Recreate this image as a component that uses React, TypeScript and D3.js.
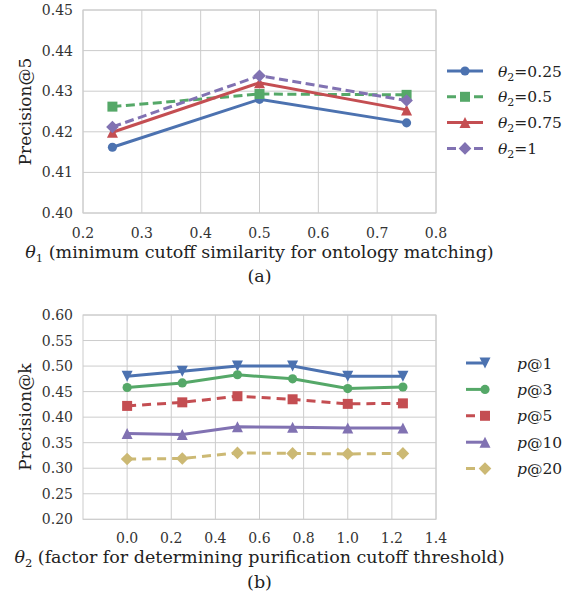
import React from "react";
import * as d3 from "d3";

// (a) precision@5 vs theta1
const theta1 = [0.25, 0.5, 0.75];
const a025 = [0.4162, 0.428, 0.4222];
const a05 = [0.4262, 0.4293, 0.4291];
const a075 = [0.4199, 0.4321, 0.4254];
const a1 = [0.4212, 0.4338, 0.4277];
const aXTicks = [0.2, 0.3, 0.4, 0.5, 0.6, 0.7, 0.8];
const aYTicks = [0.4, 0.41, 0.42, 0.43, 0.44, 0.45];

// (b) precision@k vs theta2
const theta2 = [0, 0.25, 0.5, 0.75, 1.0, 1.25];
const p1 = [0.48, 0.49, 0.5, 0.5, 0.48, 0.48];
const p3 = [0.458, 0.467, 0.483, 0.475, 0.456, 0.459];
const p5 = [0.422, 0.429, 0.441, 0.435, 0.426, 0.427];
const p10 = [0.368, 0.366, 0.381, 0.38, 0.379, 0.379];
const p20 = [0.318, 0.319, 0.33, 0.329, 0.328, 0.329];
const bXTicks = [0.0, 0.2, 0.4, 0.6, 0.8, 1.0, 1.2, 1.4];
const bYTicks = [0.2, 0.25, 0.3, 0.35, 0.4, 0.45, 0.5, 0.55, 0.6];

const C = {
  blue: "#4C72B0",
  green: "#55A868",
  red: "#C44E52",
  purple: "#8172B2",
  yellow: "#CCB974",
};
const GRID = "#cccccc";
const FONT = "'DejaVu Serif', serif";

type Marker = "circle" | "square" | "tri" | "trid" | "diamond";

function markerPath(m: Marker) {
  if (m === "circle") {
    return d3.symbol(d3.symbolCircle, 66)()!;
  }
  const p = d3.path();
  if (m === "square") {
    const s = 5;
    p.rect(-s, -s, 2 * s, 2 * s);
  } else if (m === "diamond") {
    const s = 6.3;
    p.moveTo(0, -s); p.lineTo(s, 0); p.lineTo(0, s); p.lineTo(-s, 0); p.closePath();
  } else if (m === "tri") {
    const s = 5.5;
    p.moveTo(0, -s); p.lineTo(s, s); p.lineTo(-s, s); p.closePath();
  } else {
    const s = 5.5;
    p.moveTo(0, s); p.lineTo(s, -s); p.lineTo(-s, -s); p.closePath();
  }
  return p.toString();
}

function Mark({ m, x, y, color }: { m: Marker; x: number; y: number; color: string }) {
  return <path d={markerPath(m)} transform={`translate(${x},${y})`} fill={color} />;
}

type Series = { name: React.ReactNode; values: number[]; color: string; dash?: string; marker: Marker };

function Panel({
  top, xs, series, xDomain, yDomain, xTicks, yTicks, xFmt, yFmt, yLabel, xLabel, tag,
  legendY, legendStep, legendLine, textX,
  tickY, titleY, tagY,
}: any) {
  const left = 83, right = 436, height = top.h;
  const x = d3.scaleLinear().domain(xDomain).range([left, right]);
  const y = d3.scaleLinear().domain(yDomain).range([top.y + height, top.y]);
  const line = d3.line<number>().x((_, i) => x(xs[i])).y((d) => y(d));
  return (
    <g>
      {xTicks.map((t: number) => (
        <line key={"gx" + t} x1={x(t)} x2={x(t)} y1={y(yDomain[0])} y2={y(yDomain[1])} stroke={GRID} strokeWidth={1} />
      ))}
      {yTicks.map((t: number) => (
        <line key={"gy" + t} x1={left} x2={right} y1={y(t)} y2={y(t)} stroke={GRID} strokeWidth={1} />
      ))}
      <rect x={left} y={top.y} width={right - left} height={height} fill="none" stroke={GRID} strokeWidth={1} />
      {yTicks.map((t: number) => (
        <text key={"ty" + t} x={73} y={y(t) + 5} textAnchor="end" fontFamily={FONT} fontSize={14} fill="#333">
          {yFmt(t)}
        </text>
      ))}
      {xTicks.map((t: number) => (
        <text key={"tx" + t} x={x(t)} y={tickY} textAnchor="middle" fontFamily={FONT} fontSize={14} fill="#333">
          {xFmt(t)}
        </text>
      ))}
      <text transform={`translate(31,${top.y + height / 2}) rotate(-90)`} textAnchor="middle" fontFamily={FONT} fontSize={17} fill="#222">
        {yLabel}
      </text>
      <text x={(left + right) / 2} y={titleY} textAnchor="middle" fontFamily={FONT} fontSize={17.5} fill="#222">
        {xLabel}
      </text>
      <text x={(left + right) / 2} y={tagY} textAnchor="middle" fontFamily={FONT} fontSize={17.5} fill="#222">
        {tag}
      </text>
      {series.map((s: Series, i: number) => (
        <g key={"s" + i}>
          <path d={line(s.values)!} fill="none" stroke={s.color} strokeWidth={3} strokeDasharray={s.dash} />
          {s.values.map((v, j) => (
            <Mark key={j} m={s.marker} x={x(xs[j])} y={y(v)} color={s.color} />
          ))}
        </g>
      ))}
      {series.map((s: Series, i: number) => {
        const ly = legendY + i * legendStep;
        return (
          <g key={"l" + i}>
            <line x1={legendLine[0]} x2={legendLine[1]} y1={ly} y2={ly} stroke={s.color} strokeWidth={3} strokeDasharray={s.dash} />
            <Mark m={s.marker} x={legendLine[2]} y={ly} color={s.color} />
            <text x={textX} y={ly + 5.5} fontFamily={FONT} fontSize={15.5} fill="#222">
              {s.name}
            </text>
          </g>
        );
      })}
    </g>
  );
}

const theta2Name = (v: string) => (
  <>
    <tspan fontStyle="italic">θ</tspan>
    <tspan fontSize={11} dy={4}>2</tspan>
    <tspan dy={-4}>={v}</tspan>
  </>
);
const pName = (k: string) => (
  <>
    <tspan fontStyle="italic">p</tspan>@{k}
  </>
);

export default function App() {
  const seriesA: Series[] = [
    { name: theta2Name("0.25"), values: a025, color: C.blue, marker: "circle" },
    { name: theta2Name("0.5"), values: a05, color: C.green, dash: "9,4.5", marker: "square" },
    { name: theta2Name("0.75"), values: a075, color: C.red, marker: "tri" },
    { name: theta2Name("1"), values: a1, color: C.purple, dash: "9,4.5", marker: "diamond" },
  ];
  const seriesB: Series[] = [
    { name: pName("1"), values: p1, color: C.blue, marker: "trid" },
    { name: pName("3"), values: p3, color: C.green, marker: "circle" },
    { name: pName("5"), values: p5, color: C.red, dash: "9,6", marker: "square" },
    { name: pName("10"), values: p10, color: C.purple, marker: "tri" },
    { name: pName("20"), values: p20, color: C.yellow, dash: "9,6", marker: "diamond" },
  ];
  return (
    <div style={{ position: "absolute", left: 0, top: 0 }}>
      <svg width={576} height={597} style={{ display: "block", background: "#fff" }}>
        <Panel
          top={{ y: 10, h: 203 }}
          xs={theta1}
          series={seriesA}
          xDomain={[0.2, 0.8]}
          yDomain={[0.4, 0.45]}
          xTicks={aXTicks}
          yTicks={aYTicks}
          xFmt={d3.format(".1f")}
          yFmt={d3.format(".2f")}
          yLabel="Precision@5"
          xLabel={
            <>
              <tspan fontStyle="italic">θ</tspan>
              <tspan fontSize={11.5} dy={4}>1</tspan>
              <tspan dy={-4}> (minimum cutoff similarity for ontology matching)</tspan>
            </>
          }
          tag="(a)"
          legendY={71}
          legendStep={25.8}
          legendLine={[447, 483, 465]}
          textX={498}
          tickY={238}
          titleY={258}
          tagY={282}
        />
        <Panel
          top={{ y: 315, h: 204.3 }}
          xs={theta2}
          series={seriesB}
          xDomain={[-0.2, 1.4]}
          yDomain={[0.2, 0.6]}
          xTicks={bXTicks}
          yTicks={bYTicks}
          xFmt={d3.format(".1f")}
          yFmt={d3.format(".2f")}
          yLabel="Precision@k"
          xLabel={
            <>
              <tspan fontStyle="italic">θ</tspan>
              <tspan fontSize={11.5} dy={4}>2</tspan>
              <tspan dy={-4}> (factor for determining purification cutoff threshold)</tspan>
            </>
          }
          tag="(b)"
          legendY={363}
          legendStep={26.4}
          legendLine={[466, 486, 485]}
          textX={517}
          tickY={543}
          titleY={563}
          tagY={588}
        />
      </svg>
    </div>
  );
}
